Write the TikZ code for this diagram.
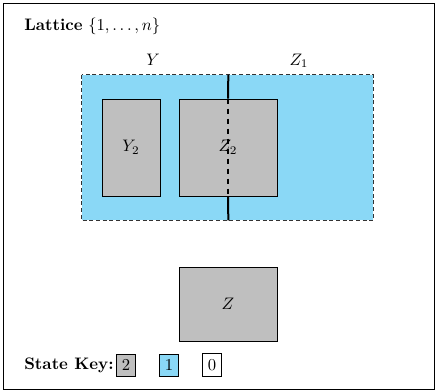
\documentclass[tikz,border=0pt]{standalone}
\begin{document}
\begin{tikzpicture}[x=0.6pt,y=-0.6pt,
  region/.style={fill=skyb,draw=none,minimum width=#1,inner sep=0pt,minimum height=87pt},
  graybox/.style={draw,fill=lightgray,inner sep=0pt},
  keybox/.style={draw},
  lbl/.style={inner sep=0pt}]
\definecolor{skyb}{RGB}{138,216,246}
\useasboundingbox (0,0) rectangle (437,392);
\node[draw,minimum width=258.6pt,minimum height=231.6pt,inner sep=0pt] (frame) at (218.5,196) {};
\node[lbl,anchor=west] (title) at (24,26) {\textbf{Lattice} $\{1,\ldots,n\}$};
\node[region=87.6pt] (Y) at (155,147.5) {};
\node[region=87pt] (Z1) at (300.5,147.5) {};
\draw[dash pattern=on 2.4pt off 1.6pt,line width=0.7pt,black!80] (Y.north west) rectangle (Z1.south east);
\node[lbl] (Ylbl) at (153,60) {$Y$};
\node[lbl] (Z1lbl) at (299,61) {$Z_1$};
\node[graybox,minimum width=34.8pt,minimum height=58.2pt] (Y2) at (131,147.5) {$Y_2$};
\node[graybox,minimum width=58.8pt,minimum height=58.2pt] (Z2) at (228,147.5) {$Z_2$};
\draw[line width=1.2pt] (Y.north east) -- (Z2.north);
\draw[line width=1.2pt,dash pattern=on 3.5pt off 2.5pt] (Z2.north) -- (Z2.south);
\draw[line width=1.2pt] (Z2.south) -- (Y.south east);
\node[graybox,minimum width=58.8pt,minimum height=44.4pt] (Z) at (228,304) {$Z$};
\node[lbl,anchor=west] (key) at (24,365) {\textbf{State Key:}};
\node[keybox,fill=lightgray] (k2) at (126,365) {2};
\node[keybox,fill=skyb] (k1) at (169,365) {1};
\node[keybox,fill=white] (k0) at (212,365) {0};
\end{tikzpicture}
\end{document}
